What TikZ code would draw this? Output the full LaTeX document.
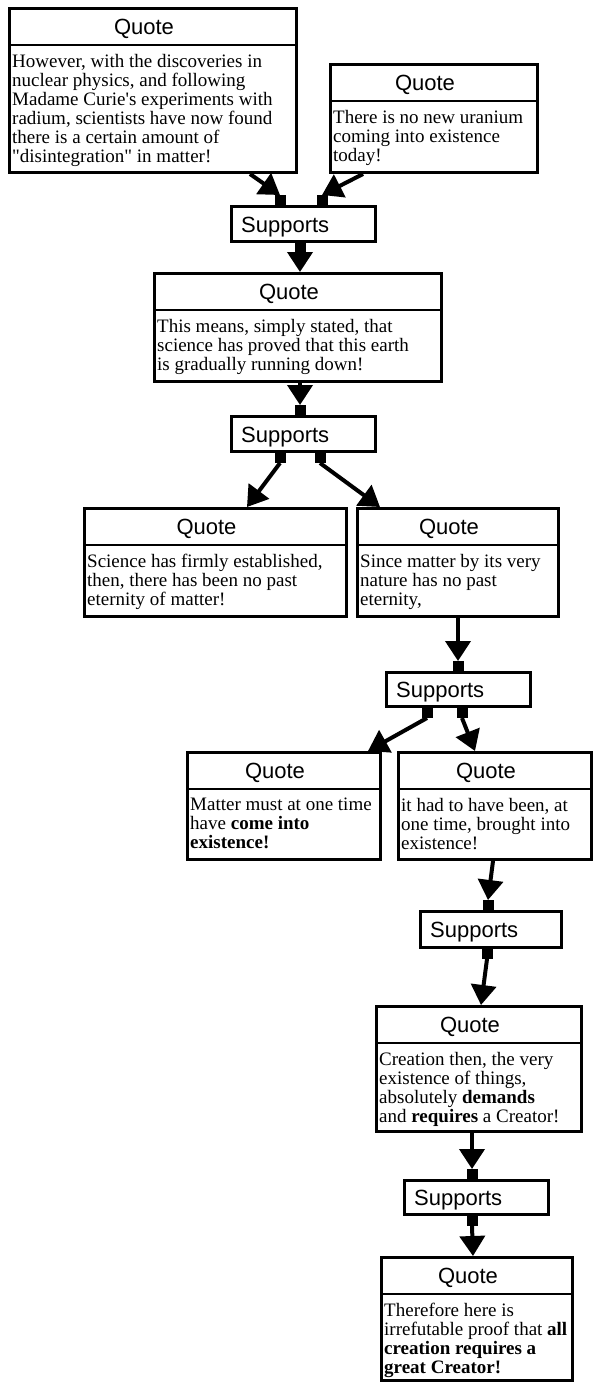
\documentclass[tikz,border=0pt]{standalone}
\usepackage{fontspec}
\setmainfont{Liberation Serif}
\newfontfamily\labelfont{Liberation Sans}
\usetikzlibrary{calc,arrows.meta}

\tikzset{
  quoteframe/.style={draw=black, line width=3pt, fill=white, inner sep=0pt, anchor=north west},
  supframe/.style={draw=black, line width=3pt, fill=white, inner sep=0pt, anchor=north west},
  labeltext/.style={font=\labelfont\fontsize{22}{24}\selectfont, inner sep=0pt},
  bodytext/.style={font=\fontsize{19}{19}\selectfont, align=left, inner sep=0pt, anchor=north west},
  divider/.style={line width=2.5pt},
  sqr/.style={fill=black, minimum width=11pt, minimum height=10pt, inner sep=0pt, outer sep=0pt},
  link/.style={line width=4pt, -{Triangle[width=25pt,length=20pt]}},
}

% a quote card: name, x, y, width, height, body
\newcommand\quotecard[6]{%
  \node[quoteframe, minimum width=#4pt-3pt, minimum height=#5pt-3pt] (#1) at (#2,#3) {};
  \draw[divider] ($(#1.north west)+(0,38)$) -- ($(#1.north east)+(0,38)$);
  \node[labeltext, anchor=base] (#1-head) at ($(#1.north)+(-9,27)$) {Quote};
  \node[bodytext] (#1-body) at ($(#1.north west)+(4,47)$) {#6};
}
% a "Supports" box: name, x, y, width, height
\newcommand\supcard[5]{%
  \node[supframe, minimum width=#4pt-3pt, minimum height=#5pt-3pt] (#1) at (#2,#3) {};
  \node[labeltext, anchor=base west] (#1-label) at ($(#1.west)+(11,8)$) {Supports};
}

\begin{document}
\begin{tikzpicture}[x=1pt, y=-1pt]
\useasboundingbox[fill=white] (0,0) rectangle (594,1384);

% boxes
\quotecard{q1}{8}{7}{290}{167}{However, with the discoveries in\\nuclear physics, and following\\Madame Curie\textquotesingle s experiments with\\radium, scientists have now found\\there is a certain amount of\\\textquotedbl disintegration\textquotedbl{} in matter!}
\quotecard{q2}{329}{63}{210}{111}{There is no new uranium\\coming into existence\\today!}
\supcard{s1}{230}{205}{147}{38}
\quotecard{q3}{153}{272}{290}{111}{This means, simply stated, that\\science has proved that this earth\\is gradually running down!}
\supcard{s2}{230}{415}{147}{38}
\quotecard{q4}{83}{507}{265}{111}{Science has firmly established,\\then, there has been no past\\eternity of matter!}
\quotecard{q5}{356}{507}{204}{111}{Since matter by its very\\nature has no past\\eternity,}
\supcard{s3}{385}{671}{147}{37}
\quotecard{q6}{186}{751}{196}{110}{Matter must at one time\\have \textbf{come into}\\\textbf{existence!}}
\quotecard{q7}{397}{751}{196}{110}{it had to have been, at\\one time, brought into\\existence!}
\supcard{s4}{419}{910}{144}{39}
\quotecard{q8}{375}{1005}{208}{128}{Creation then, the very\\existence of things,\\absolutely \textbf{demands}\\and \textbf{requires} a Creator!}
\supcard{s5}{403}{1179}{147}{37}
\quotecard{q9}{380}{1256}{194}{126}{Therefore here is\\irrefutable proof that \textbf{all}\\\textbf{creation requires a}\\\textbf{great Creator!}}

% connection squares on the Supports boxes
\node[sqr, anchor=south] (s1in1) at ($(s1.north west)+(50,0)$) {};
\node[sqr, anchor=south] (s1in2) at ($(s1.north west)+(92,0)$) {};
\node[sqr, anchor=north] (s1out) at ($(s1.south west)+(70,0)$) {};
\node[sqr, anchor=south] (s2in) at ($(s2.north west)+(70,0)$) {};
\node[sqr, anchor=north] (s2out1) at ($(s2.south west)+(50,0)$) {};
\node[sqr, anchor=north] (s2out2) at ($(s2.south west)+(90,0)$) {};
\node[sqr, anchor=south] (s3in) at ($(s3.north west)+(73,0)$) {};
\node[sqr, anchor=north] (s3out1) at ($(s3.south west)+(42,0)$) {};
\node[sqr, anchor=north] (s3out2) at ($(s3.south west)+(77,0)$) {};
\node[sqr, anchor=south] (s4in) at ($(s4.north west)+(69,0)$) {};
\node[sqr, anchor=north] (s4out) at ($(s4.south west)+(68,0)$) {};
\node[sqr, anchor=south] (s5in) at ($(s5.north west)+(69,0)$) {};
\node[sqr, anchor=north] (s5out) at ($(s5.south west)+(69,0)$) {};

% connection points on the quote cards
\coordinate (q1out) at ($(q1.south west)+(242,0)$);
\coordinate (q2out) at ($(q2.south west)+(34,0)$);
\coordinate (q3in)  at ($(q3.north west)+(147,0)$);
\coordinate (q3out) at ($(q3.south west)+(147,0)$);
\coordinate (q4in)  at ($(q4.north west)+(164,0)$);
\coordinate (q5in)  at ($(q5.north west)+(24,0)$);
\coordinate (q5out) at ($(q5.south west)+(102,0)$);
\coordinate (q6in)  at ($(q6.north west)+(182,0)$);
\coordinate (q7in)  at ($(q7.north west)+(78,0)$);
\coordinate (q7out) at ($(q7.south west)+(96,0)$);
\coordinate (q8in)  at ($(q8.north west)+(106,0)$);
\coordinate (q8out) at ($(q8.south west)+(97,0)$);
\coordinate (q9in)  at ($(q9.north west)+(93,0)$);

% connectors
\draw[link] (q1out) -- (s1in1.north);
\draw[link] (q2out) -- (s1in2.north);
\draw[link] (s1out.south) -- (q3in);
\draw[link] (q3out) -- (s2in.north);
\draw[link] (s2out1.south) -- (q4in);
\draw[link] (s2out2.south) -- (q5in);
\draw[link] (q5out) -- (s3in.north);
\draw[link] (s3out1.south) -- (q6in);
\draw[link] (s3out2.south) -- (q7in);
\draw[link] (q7out) -- (s4in.north);
\draw[link] (s4out.south) -- (q8in);
\draw[link] (q8out) -- (s5in.north);
\draw[link] (s5out.south) -- (q9in);
\end{tikzpicture}
\end{document}
